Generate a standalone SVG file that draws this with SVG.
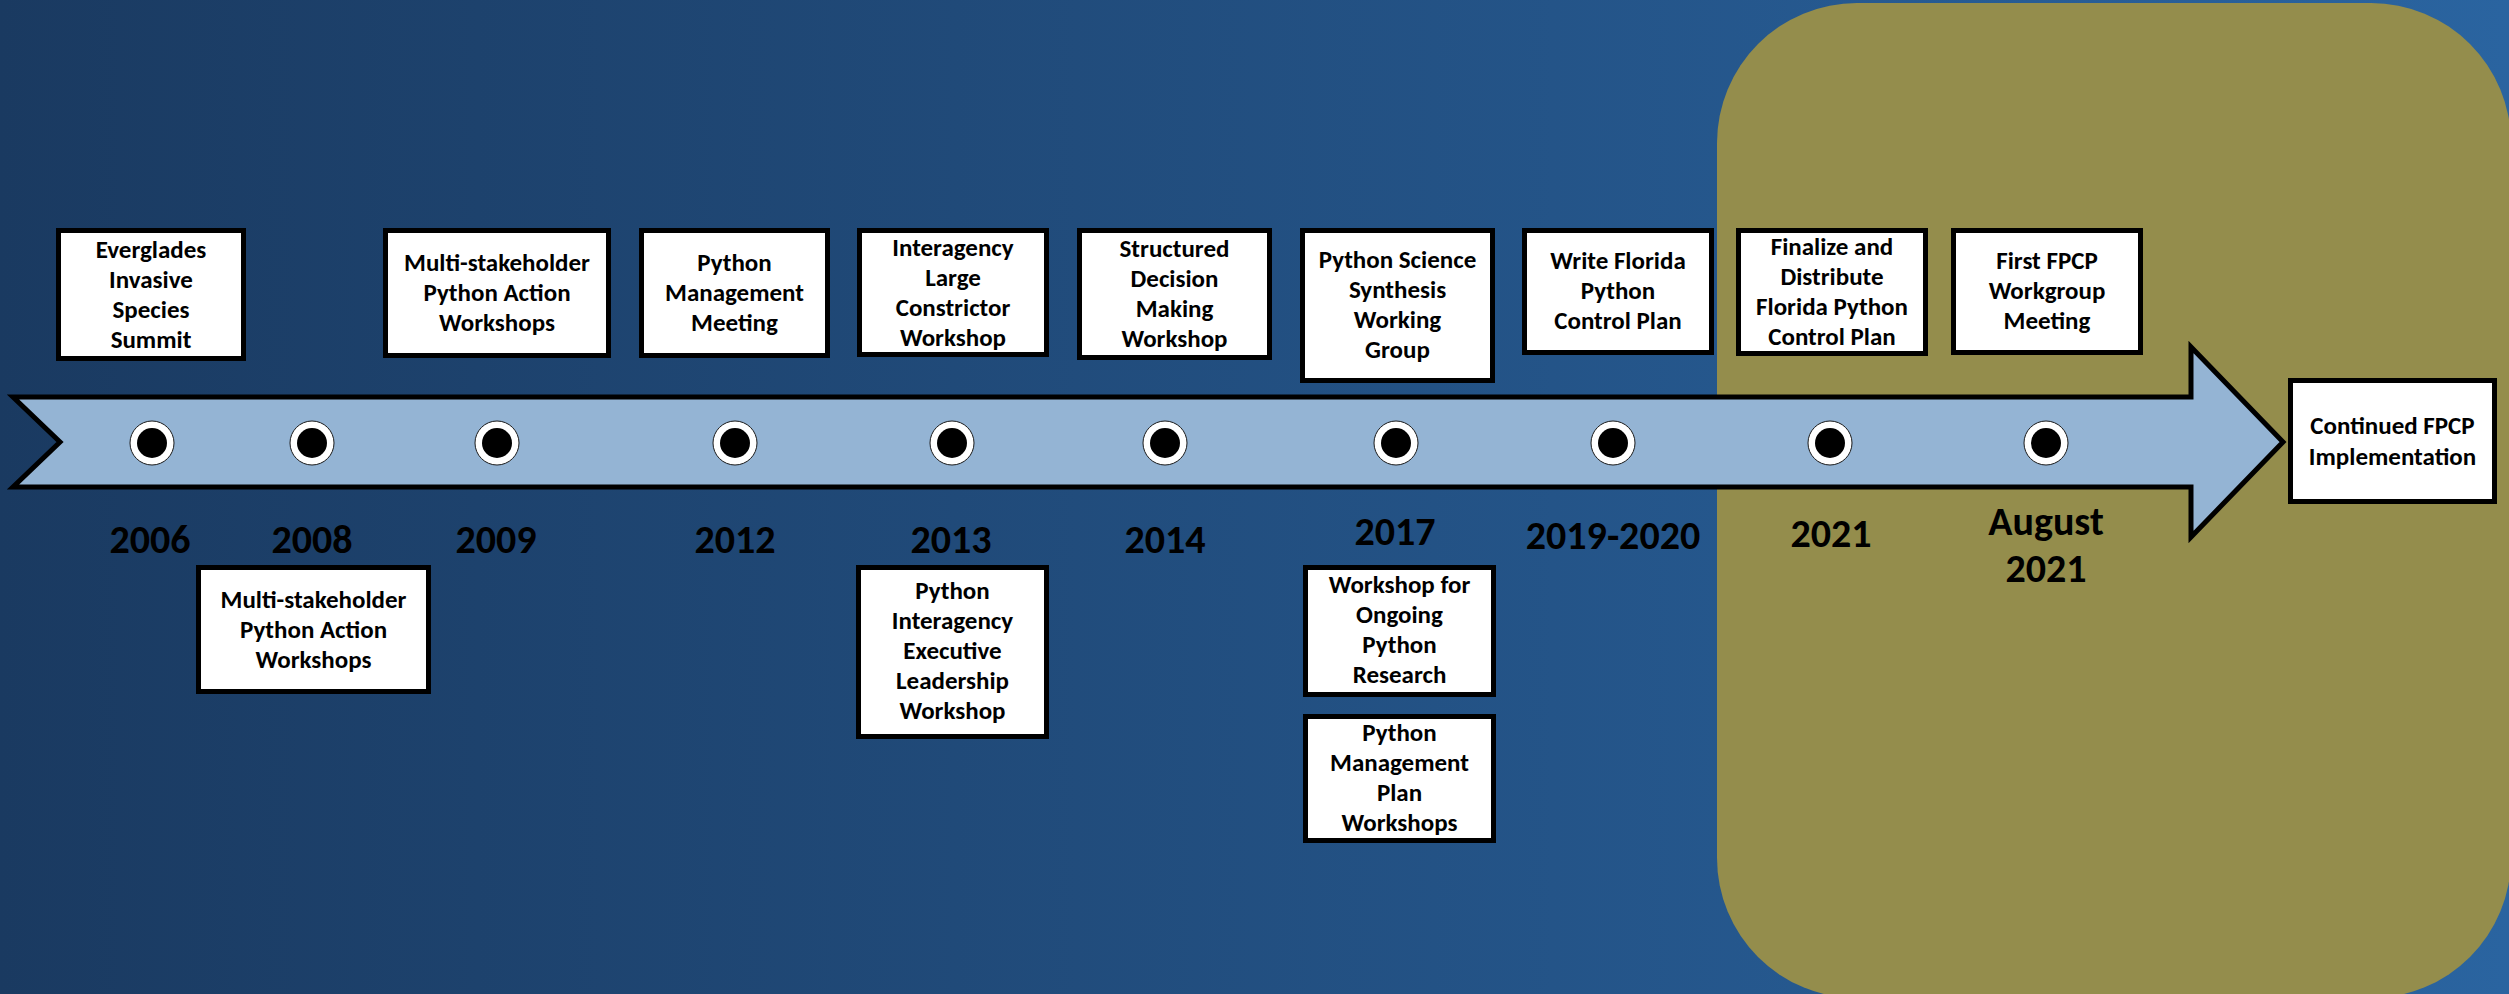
<svg xmlns="http://www.w3.org/2000/svg" width="2509" height="994" viewBox="0 0 2509 994">
<defs>
<linearGradient id="bg" x1="0" y1="0" x2="1" y2="0">
<stop offset="0" stop-color="#1a3a61"/>
<stop offset="1" stop-color="#2a64a0"/>
</linearGradient>
<style>
.box{fill:#ffffff;stroke:#000000;stroke-width:5}
.t{font-family:Carlito,Calibri,Lato,"Open Sans",sans-serif;font-weight:bold;font-size:25px;fill:#000000;text-anchor:middle}
.yr{font-family:Carlito,Calibri,Lato,"Open Sans",sans-serif;font-weight:bold;font-size:40px;fill:#000000;text-anchor:middle}
.ring{fill:#ffffff;stroke:#1a1a1a;stroke-width:1}
.dot{fill:#000000}
</style>
</defs>
<rect x="0" y="0" width="2509" height="994" fill="url(#bg)"/>
<rect x="1717" y="3" width="794" height="995" rx="140" ry="140" fill="#948d4c"/>

<g id="connectors">
<path d="M13,397 L2191,397 L2191,347 L2283,442 L2191,537 L2191,487 L13,487 L60,442 Z" fill="#94b4d4" stroke="#000000" stroke-width="5" stroke-linejoin="miter"/>
</g>

<g id="dots">
<g id="dot-2006"><circle class="ring" cx="152" cy="443" r="22"/><circle class="dot" cx="152" cy="443" r="15"/></g>
<g id="dot-2008"><circle class="ring" cx="312" cy="443" r="22"/><circle class="dot" cx="312" cy="443" r="15"/></g>
<g id="dot-2009"><circle class="ring" cx="497" cy="443" r="22"/><circle class="dot" cx="497" cy="443" r="15"/></g>
<g id="dot-2012"><circle class="ring" cx="735" cy="443" r="22"/><circle class="dot" cx="735" cy="443" r="15"/></g>
<g id="dot-2013"><circle class="ring" cx="952" cy="443" r="22"/><circle class="dot" cx="952" cy="443" r="15"/></g>
<g id="dot-2014"><circle class="ring" cx="1165" cy="443" r="22"/><circle class="dot" cx="1165" cy="443" r="15"/></g>
<g id="dot-2017"><circle class="ring" cx="1396" cy="443" r="22"/><circle class="dot" cx="1396" cy="443" r="15"/></g>
<g id="dot-2019"><circle class="ring" cx="1613" cy="443" r="22"/><circle class="dot" cx="1613" cy="443" r="15"/></g>
<g id="dot-2021"><circle class="ring" cx="1830" cy="443" r="22"/><circle class="dot" cx="1830" cy="443" r="15"/></g>
<g id="dot-aug2021"><circle class="ring" cx="2046" cy="443" r="22"/><circle class="dot" cx="2046" cy="443" r="15"/></g>
</g>

<g id="years">
<text class="yr" x="150" y="553">2006</text>
<text class="yr" x="312" y="553">2008</text>
<text class="yr" x="496" y="553">2009</text>
<text class="yr" x="735" y="553">2012</text>
<text class="yr" x="951" y="553">2013</text>
<text class="yr" x="1165" y="553">2014</text>
<text class="yr" x="1395" y="545">2017</text>
<text class="yr" x="1613" y="549">2019-2020</text>
<text class="yr" x="1831" y="547">2021</text>
<text class="yr" x="2046" y="535">August</text>
<text class="yr" x="2046" y="582">2021</text>
</g>

<g id="n-everglades">
<rect class="box" x="58.5" y="230.5" width="185" height="128"/>
<text class="t" x="151" y="258">Everglades</text>
<text class="t" x="151" y="288">Invasive</text>
<text class="t" x="151" y="318">Species</text>
<text class="t" x="151" y="348">Summit</text>
</g>

<g id="n-multi-top">
<rect class="box" x="385.5" y="230.5" width="223" height="125"/>
<text class="t" x="497" y="271">Multi-stakeholder</text>
<text class="t" x="497" y="301">Python Action</text>
<text class="t" x="497" y="331">Workshops</text>
</g>

<g id="n-pymgmt">
<rect class="box" x="641.5" y="230.5" width="186" height="125"/>
<text class="t" x="734.5" y="271">Python</text>
<text class="t" x="734.5" y="301">Management</text>
<text class="t" x="734.5" y="331">Meeting</text>
</g>

<g id="n-interagency">
<rect class="box" x="859.5" y="230.5" width="187" height="124"/>
<text class="t" x="953" y="256">Interagency</text>
<text class="t" x="953" y="286">Large</text>
<text class="t" x="953" y="316">Constrictor</text>
<text class="t" x="953" y="346">Workshop</text>
</g>

<g id="n-structured">
<rect class="box" x="1079.5" y="230.5" width="190" height="127"/>
<text class="t" x="1174.5" y="257">Structured</text>
<text class="t" x="1174.5" y="287">Decision</text>
<text class="t" x="1174.5" y="317">Making</text>
<text class="t" x="1174.5" y="347">Workshop</text>
</g>

<g id="n-science">
<rect class="box" x="1302.5" y="230.5" width="190" height="150"/>
<text class="t" x="1397.5" y="268">Python Science</text>
<text class="t" x="1397.5" y="298">Synthesis</text>
<text class="t" x="1397.5" y="328">Working</text>
<text class="t" x="1397.5" y="358">Group</text>
</g>

<g id="n-write">
<rect class="box" x="1524.5" y="230.5" width="187" height="122"/>
<text class="t" x="1618" y="269">Write Florida</text>
<text class="t" x="1618" y="299">Python</text>
<text class="t" x="1618" y="329">Control Plan</text>
</g>

<g id="n-finalize">
<rect class="box" x="1738.5" y="230.5" width="187" height="123"/>
<text class="t" x="1832" y="255">Finalize and</text>
<text class="t" x="1832" y="285">Distribute</text>
<text class="t" x="1832" y="315">Florida Python</text>
<text class="t" x="1832" y="345">Control Plan</text>
</g>

<g id="n-first">
<rect class="box" x="1953.5" y="230.5" width="187" height="122"/>
<text class="t" x="2047" y="269">First FPCP</text>
<text class="t" x="2047" y="299">Workgroup</text>
<text class="t" x="2047" y="329">Meeting</text>
</g>

<g id="n-continued">
<rect class="box" x="2290.5" y="380.5" width="204" height="121"/>
<text class="t" x="2392.5" y="434">Continued FPCP</text>
<text class="t" x="2392.5" y="465">Implementation</text>
</g>

<g id="n-multi-bottom">
<rect class="box" x="198.5" y="567.5" width="230" height="124"/>
<text class="t" x="313.5" y="608">Multi-stakeholder</text>
<text class="t" x="313.5" y="638">Python Action</text>
<text class="t" x="313.5" y="668">Workshops</text>
</g>

<g id="n-executive">
<rect class="box" x="858.5" y="567.5" width="188" height="169"/>
<text class="t" x="952.5" y="599">Python</text>
<text class="t" x="952.5" y="629">Interagency</text>
<text class="t" x="952.5" y="659">Executive</text>
<text class="t" x="952.5" y="689">Leadership</text>
<text class="t" x="952.5" y="719">Workshop</text>
</g>

<g id="n-ongoing">
<rect class="box" x="1305.5" y="567.5" width="188" height="127"/>
<text class="t" x="1399.5" y="593">Workshop for</text>
<text class="t" x="1399.5" y="623">Ongoing</text>
<text class="t" x="1399.5" y="653">Python</text>
<text class="t" x="1399.5" y="683">Research</text>
</g>

<g id="n-mgmtplan">
<rect class="box" x="1305.5" y="716.5" width="188" height="124"/>
<text class="t" x="1399.5" y="741">Python</text>
<text class="t" x="1399.5" y="771">Management</text>
<text class="t" x="1399.5" y="801">Plan</text>
<text class="t" x="1399.5" y="831">Workshops</text>
</g>
</svg>
